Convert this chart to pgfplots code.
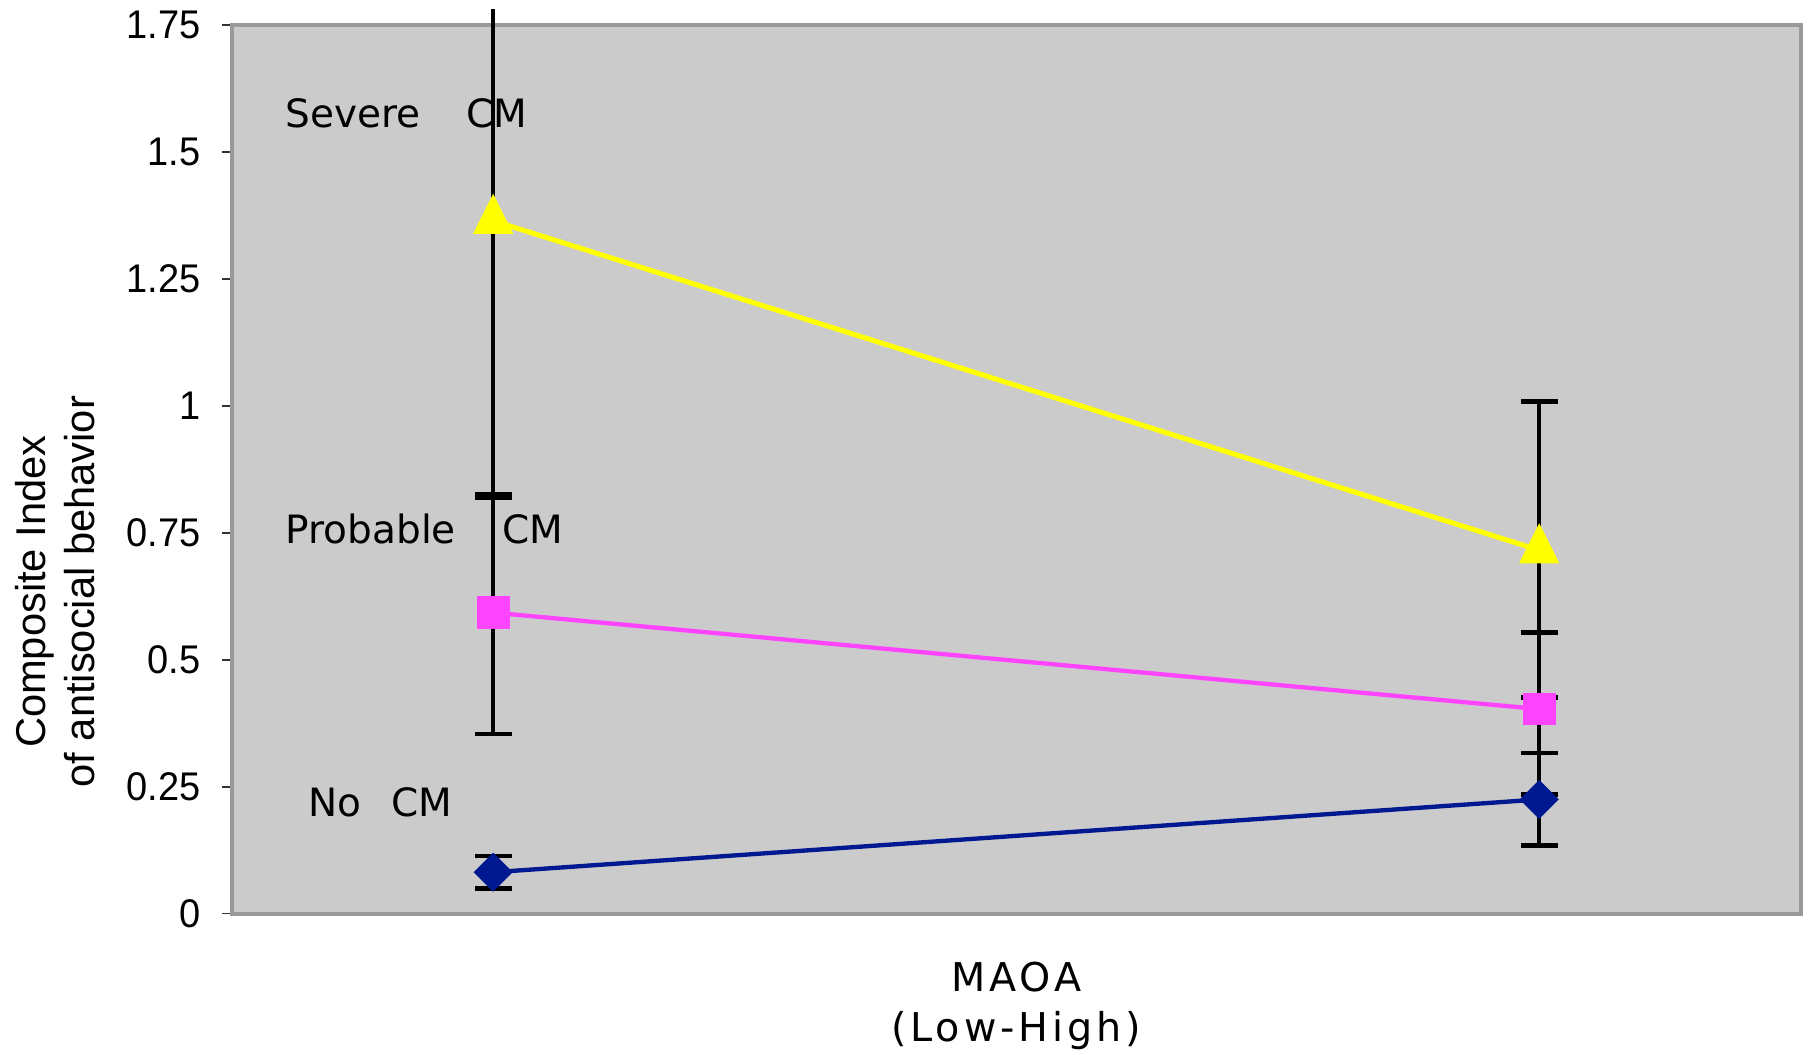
\documentclass[border=0pt]{standalone}
\usepackage{fontspec}
\setmainfont{DejaVu Sans}
\newfontfamily\lib{Liberation Sans}
\newfontfamily\tickfont[FakeStretch=0.95]{Liberation Sans}
\usepackage{pgfplots}
\usepackage{pgfplotstable}
\pgfplotsset{compat=1.18}
\definecolor{bgc}{HTML}{CBCBCB}
\definecolor{frame}{HTML}{999999}
\definecolor{sevcol}{HTML}{FFFF00}
\definecolor{probcol}{HTML}{FF44FF}
\definecolor{nocol}{HTML}{001890}

\pgfplotstableread{
x y ep em
1 0.0816 0.032 0.032
2 0.225 0.092 0.091
}\nocm
\pgfplotstableread{
x y ep em
1 0.593 0.226 0.239
2 0.403 0.151 0.168
}\prob
\pgfplotstableread{
x y ep em
1 1.365 0.417 0.539
2 0.716 0.293 0.290
}\sev

\begin{document}
\begin{tikzpicture}
\begin{axis}[
  scale only axis,
  width=470.7pt, height=266.5pt,
  xmin=0.75, xmax=2.25, ymin=0, ymax=1.75,
  clip=false,
  axis background/.style={fill=bgc},
  axis line style={draw=frame, line width=1.2pt},
  xtick=\empty,
  ytick={0,0.25,0.5,0.75,1,1.25,1.5,1.75},
  yticklabels={0,0.25,0.5,0.75,1,1.25,1.5,1.75},
  ytick pos=left,
  tick align=outside,
  major tick length=2.8pt,
  tick style={black!80, line width=0.5pt},
  yticklabel style={font=\tickfont\fontsize{12}{13}\selectfont, xshift=-3pt},
  /pgf/number format/assume math mode=true,
  error bars/error bar style={black, line width=1.3pt},
  error bars/error mark=|,
  error bars/error mark options={black, mark size=5.5pt, line width=1.3pt},
]
% error bars (drawn below all markers)
\addplot[only marks, mark=none, forget plot,
  error bars/.cd, y dir=minus, y explicit]
  table[x=x, y=y, y error minus=em] {\sev};
\addplot[only marks, mark=none, forget plot,
  error bars/.cd, y dir=plus, y explicit]
  table[x=x, y=y, y error plus=ep, restrict x to domain=1.5:2.5] {\sev};
\addplot[black, line width=1.3pt, forget plot]
  coordinates {(1,1.365) (1,1.782)};
\addplot[only marks, mark=none, forget plot,
  error bars/.cd, y dir=both, y explicit]
  table[x=x, y=y, y error plus=ep, y error minus=em] {\prob};
\addplot[only marks, mark=none, forget plot,
  error bars/.cd, y dir=both, y explicit]
  table[x=x, y=y, y error plus=ep, y error minus=em] {\nocm};
% lines and markers
\addplot[nocol, line width=1.3pt, mark=square*, mark size=3.5pt,
  mark options={rotate=45, fill=nocol, draw=nocol}]
  table[x=x, y=y] {\nocm};
\addplot[probcol, line width=1.3pt, mark=square*, mark size=4.25pt,
  mark options={fill=probcol, draw=probcol}]
  table[x=x, y=y] {\prob};
\addplot[sevcol, line width=1.5pt, mark=triangle*, mark size=5.6pt,
  mark options={fill=sevcol, draw=sevcol, yscale=1.15}]
  table[x=x, y=y] {\sev};
% labels
\begin{scope}[every node/.style={anchor=base west, inner sep=0pt, font=\fontsize{11.7}{14}\selectfont}]
\node at (axis cs:0.801,1.549) {Severe};
\node at (axis cs:0.974,1.549) {CM};
\node at (axis cs:0.801,0.730) {Probable};
\node at (axis cs:1.008,0.730) {CM};
\node at (axis cs:0.823,0.192) {No};
\node at (axis cs:0.902,0.192) {CM};
\end{scope}
\node[rotate=90, align=center, anchor=center, font=\lib\fontsize{12.5}{14.7}\selectfont]
  at ([xshift=-53pt]axis description cs:0,0.3625) {Composite Index\\of antisocial behavior};
\node[anchor=base, inner sep=0pt, font=\addfontfeature{LetterSpace=10}\fontsize{11.9}{14}\selectfont]
  at ([yshift=-23.5pt]axis description cs:0.5,0) {MAOA};
\node[anchor=base, inner sep=0pt, font=\addfontfeature{LetterSpace=10}\fontsize{11.9}{14}\selectfont]
  at ([yshift=-38.5pt]axis description cs:0.5,0) {(Low-High)};
\end{axis}
\pgfresetboundingbox
\path[use as bounding box] ([xshift=-69.5pt,yshift=-42.4pt]current axis.south west) rectangle ([xshift=4.6pt,yshift=7.6pt]current axis.north east);
\end{tikzpicture}
\end{document}
